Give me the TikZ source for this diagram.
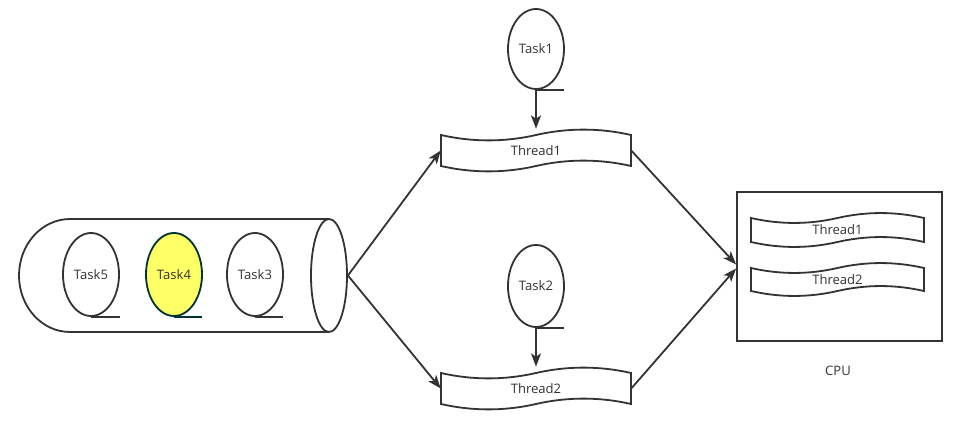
\documentclass[tikz,border=0pt]{standalone}
\usepackage{fontspec}
\setmainfont{Open Sans}
\usetikzlibrary{arrows.meta,shapes.geometric}
\definecolor{ln}{HTML}{333333}
\definecolor{txt}{HTML}{333333}
\definecolor{yel}{HTML}{FFFF66}
\definecolor{teal}{HTML}{003333}
\newcommand\tapepath[5]{%
\draw[tapeline] (#1,#2+#5/2) .. controls +(#3/6,0.6*#5) and +(-#3/6,0.6*#5) .. (#1+#3/2,#2+#5/2)
 .. controls +(#3/6,-0.6*#5) and +(-#3/6,-0.6*#5) .. (#1+#3,#2+#5/2)
 -- (#1+#3,#2+#4-#5/2)
 .. controls +(-#3/6,-0.6*#5) and +(#3/6,-0.6*#5) .. (#1+#3/2,#2+#4-#5/2)
 .. controls +(-#3/6,0.6*#5) and +(#3/6,0.6*#5) .. (#1,#2+#4-#5/2) -- cycle;}
\begin{document}
\begin{tikzpicture}[x=0.75pt,y=-0.75pt,
  tapeline/.style={draw=ln,line width=1.35pt,fill=white},
  lbl/.style={font=\fontsize{9.8pt}{11pt}\selectfont,text=txt,inner sep=0pt},
  task/.style={ellipse,draw=ln,line width=1.35pt,minimum width=42pt,minimum height=61pt,inner sep=0pt,lbl},
  tail/.style={draw=ln,line width=1.35pt},
  arr/.style={draw=ln,line width=1.35pt,-{Stealth[length=10pt,width=7.5pt,inset=2.5pt]}},
  box/.style={rectangle,inner sep=0pt,lbl}]
\useasboundingbox (0,0) rectangle (958,439);
% cylinder (queue)
\draw[ln,line width=1.35pt] (329,219) -- (70,219)
  .. controls (41.8,219) and (19,244.3) .. (19,275.5)
  .. controls (19,306.7) and (41.8,332) .. (70,332) -- (329,332);
\node[ellipse,draw=ln,line width=1.35pt,minimum width=27pt,minimum height=84.75pt,inner sep=0pt] (cylend) at (329,275.5) {};
% tasks in queue
\node[task,minimum height=62.25pt] (t5) at (91,274.5) {Task5};
\draw[tail] (t5.south) -- ++(29,0);
\node[task,minimum height=62.25pt,fill=yel,draw=teal] (t4) at (174,274.5) {Task4};
\draw[tail,draw=teal] (t4.south) -- ++(28,0);
\node[task,minimum height=62.25pt] (t3) at (255,274.5) {Task3};
\draw[tail] (t3.south) -- ++(28,0);
% threads
\tapepath{441}{129}{190}{43}{12}
\node[box,minimum width=142.5pt,minimum height=32.25pt] (th1) at (536,150.5) {Thread1};
\tapepath{441}{367}{190}{43}{12}
\node[box,minimum width=142.5pt,minimum height=32.25pt] (th2) at (536,388.5) {Thread2};
% tasks 1 and 2
\node[task,minimum height=60pt] (t1) at (536,49) {Task1};
\draw[tail] (t1.south) -- ++(28,0);
\node[task,minimum height=61.5pt] (t2) at (536,286) {Task2};
\draw[tail] (t2.south) -- ++(28,0);
% CPU
\node[rectangle,draw=ln,line width=1.35pt,minimum width=153.75pt,minimum height=111.75pt,inner sep=0pt] (cpu) at (839.5,266.5) {};
\tapepath{751}{212.5}{173}{35}{11}
\node[box,minimum width=129.75pt,minimum height=26.25pt] (c1) at (837.5,230) {Thread1};
\tapepath{751}{262.5}{173}{34}{11}
\node[box,minimum width=129.75pt,minimum height=25.5pt] (c2) at (837.5,279.5) {Thread2};
\node[lbl] (cpulbl) at (838,371) {CPU};
% connectors
\draw[arr] (t1.south) -- (th1.north);
\draw[arr] (t2.south) -- (th2.north);
\draw[arr] (cylend.east) -- (th1.west);
\draw[arr] (cylend.east) -- (th2.west);
\draw[arr] (th1.east) -- ([yshift=1.5pt]cpu.west);
\draw[arr] (th2.east) -- ([yshift=-1.5pt]cpu.west);
\end{tikzpicture}
\end{document}
